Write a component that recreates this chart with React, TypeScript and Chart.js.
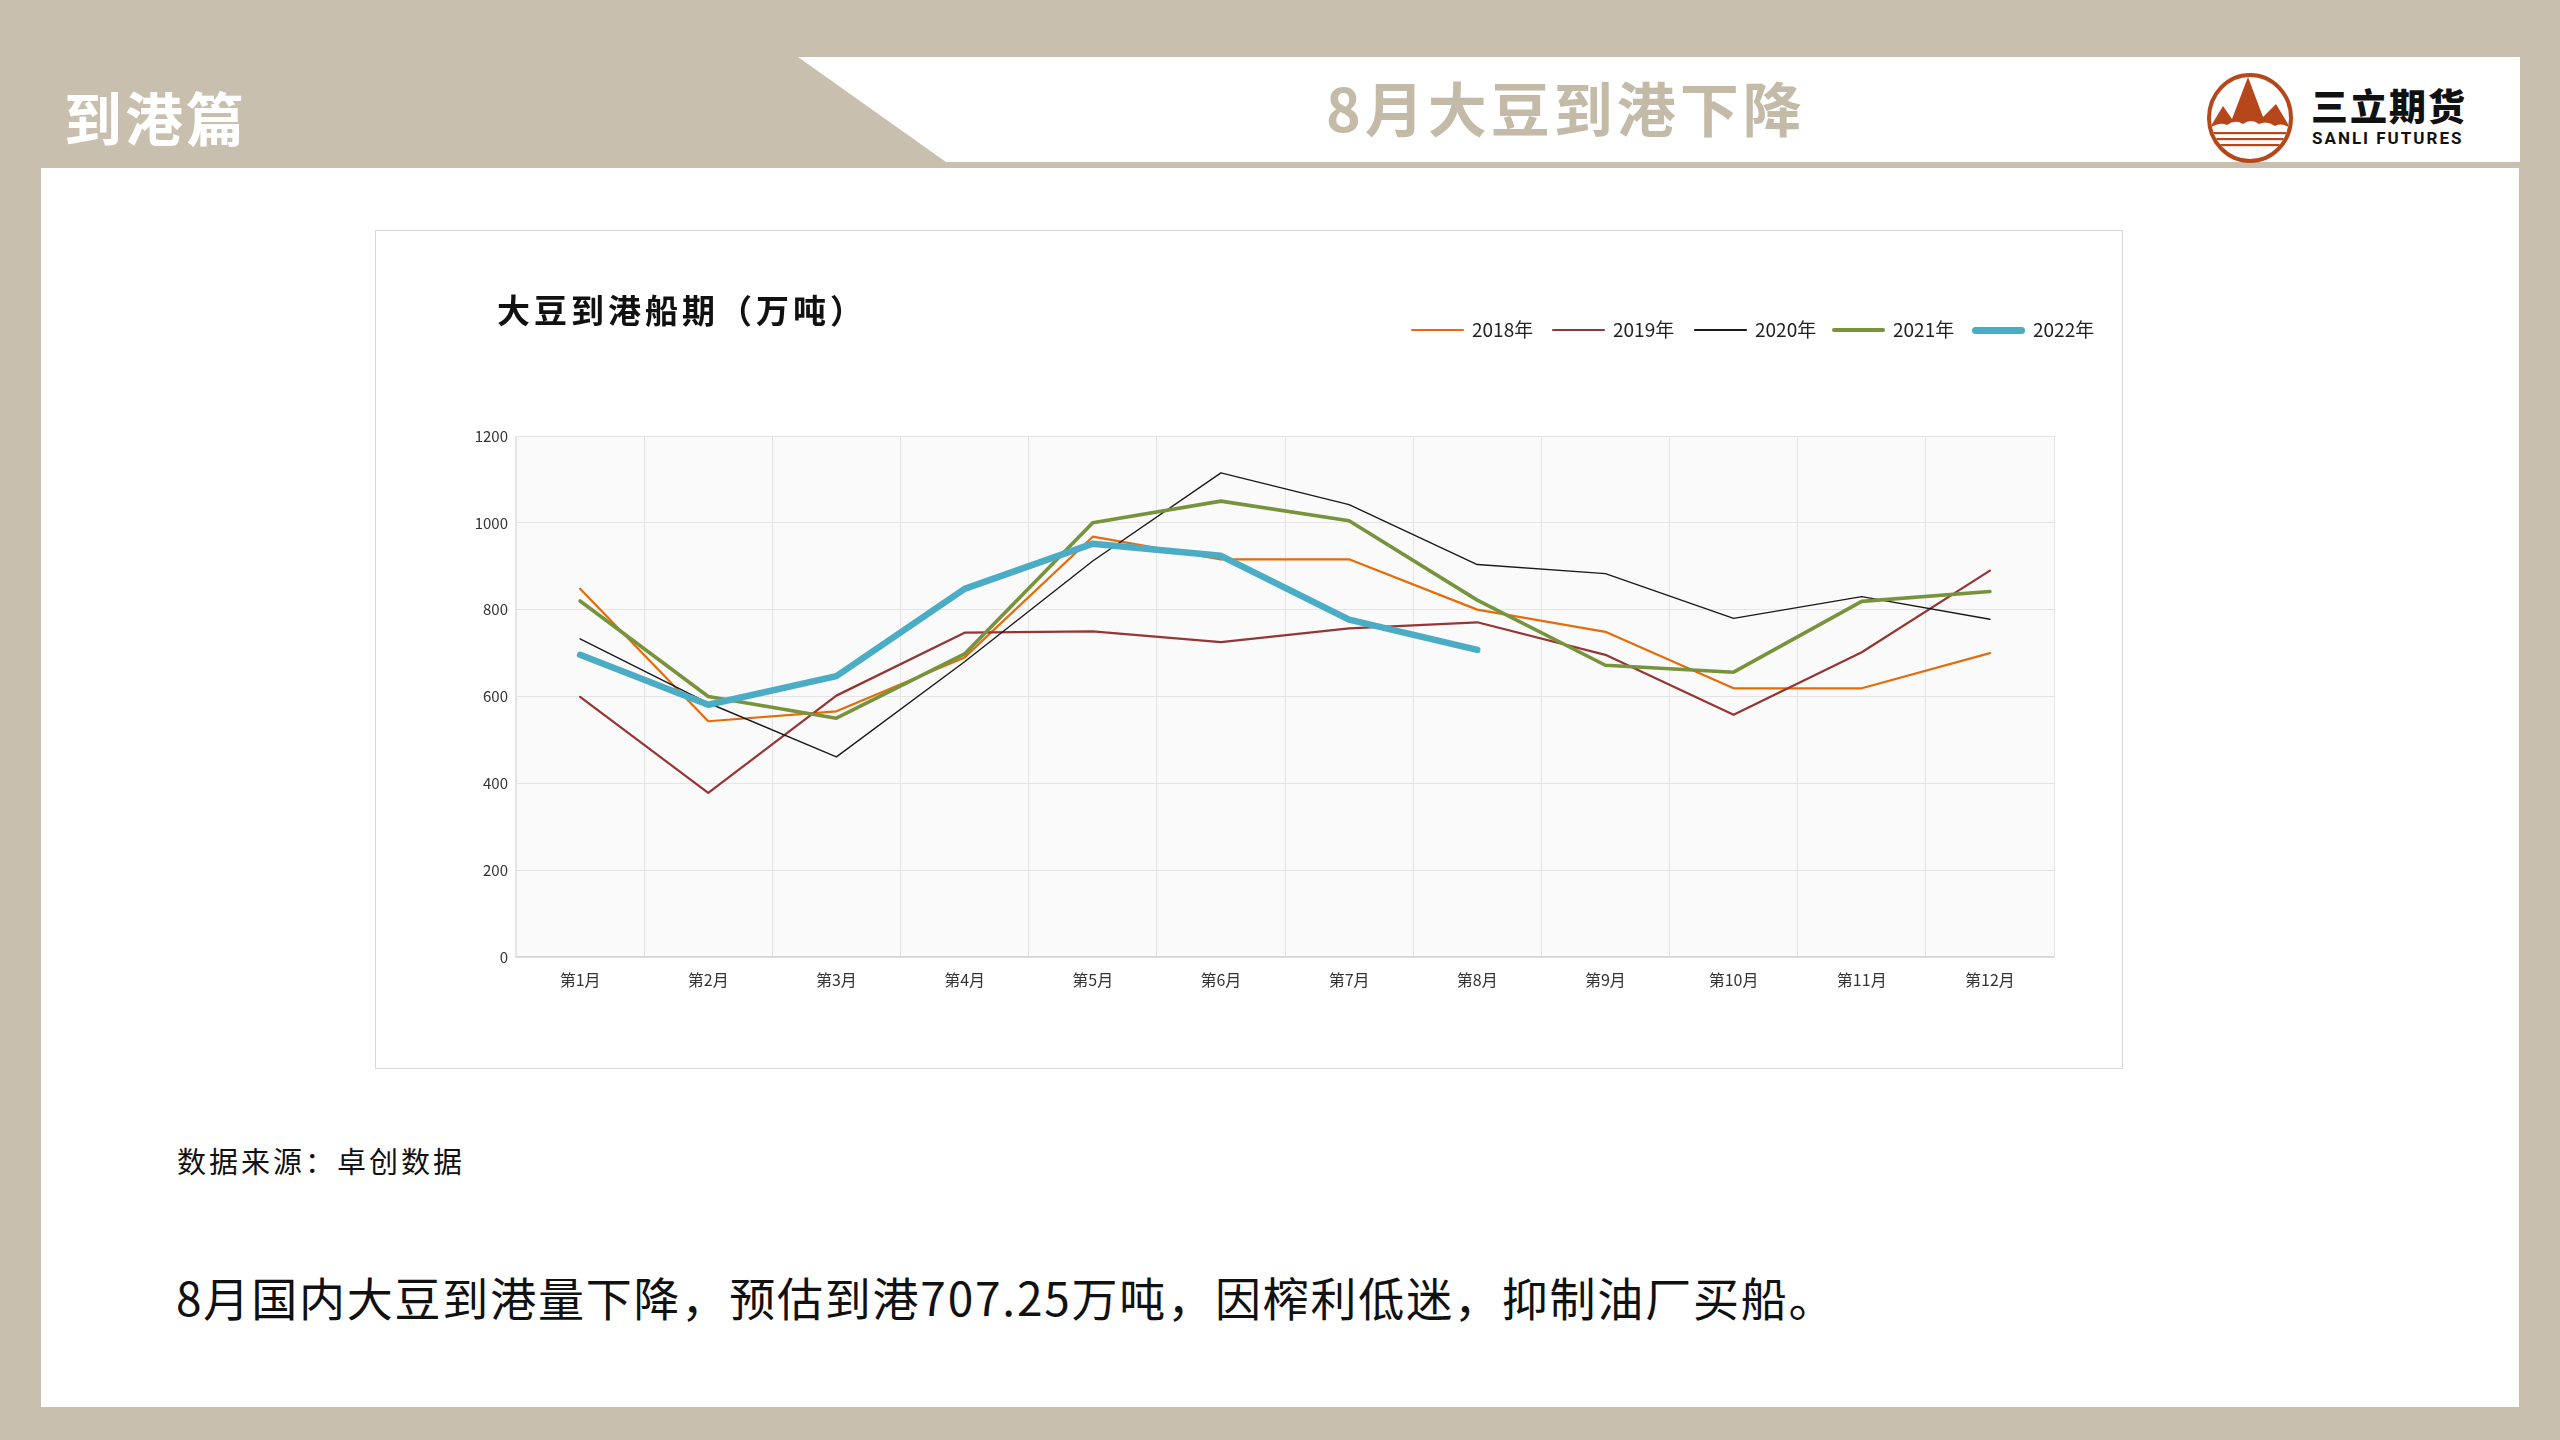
import React, { useEffect, useRef } from 'react';
import { Chart, registerables } from 'chart.js';

Chart.register(...registerables);

const months = ['第1月', '第2月', '第3月', '第4月', '第5月', '第6月', '第7月', '第8月', '第9月', '第10月', '第11月', '第12月'];
const years = ['2018年', '2019年', '2020年', '2021年', '2022年'];
const v2018 = [848, 543, 566, 690, 968, 916, 916, 800, 749, 619, 619, 700];
const v2019 = [599, 378, 602, 747, 750, 725, 757, 771, 696, 558, 702, 890];
const v2020 = [733, 585, 461, 680, 912, 1115, 1042, 904, 883, 780, 830, 778];
const v2021 = [820, 600, 550, 698, 1000, 1050, 1005, 822, 672, 656, 819, 842];
const v2022 = [696, 581, 647, 848, 952, 924, 777, 707.25, null, null, null, null];
const yTicks = [0, 200, 400, 600, 800, 1000, 1200];

const seriesValues = [v2018, v2019, v2020, v2021, v2022];
const colors = ['#E46C0A', '#943634', '#1A1A1A', '#77933C', '#4BACC6'];
const widths = [2.25, 2.25, 1.4, 3.6, 6.5];

const FONT = '"Noto Sans CJK SC", "Noto Sans", sans-serif';
const TAN = '#C8BFAF';

const bgPlugin = {
  id: 'plotBg',
  beforeDraw(chart: any) {
    const { ctx, chartArea } = chart;
    if (!chartArea) return;
    ctx.save();
    ctx.fillStyle = '#FAFAFA';
    ctx.fillRect(chartArea.left, chartArea.top, chartArea.right - chartArea.left, chartArea.bottom - chartArea.top);
    ctx.restore();
  },
};

function Logo() {
  const c = '#B5471B';
  return (
    <svg width={120} height={110} viewBox="0 0 120 110" style={{ position: 'absolute', left: 2195, top: 65 }}>
      <defs>
        <clipPath id="lc">
          <ellipse cx={55} cy={53} rx={39} ry={41} />
        </clipPath>
      </defs>
      <ellipse cx={55} cy={53} rx={41} ry={43} fill="#fff" stroke={c} strokeWidth={4} />
      <g clipPath="url(#lc)">
        <path
          d="M14 64 L28 41 L37 54 L53 12 L68 52 L81 39 L96 64 Q88 57 80 61 Q72 55 64 59 Q56 53 48 59 Q40 54 32 60 Q23 56 14 64 Z"
          fill={c}
        />
        <rect x={10} y={67} width={90} height={2.2} fill={c} />
        <rect x={10} y={73} width={90} height={2.2} fill={c} />
        <rect x={10} y={79} width={90} height={2.2} fill={c} />
      </g>
    </svg>
  );
}

export default function App() {
  const ref = useRef<HTMLCanvasElement>(null);

  useEffect(() => {
    const chart = new Chart(ref.current as HTMLCanvasElement, {
      type: 'line',
      data: {
        labels: months,
        datasets: seriesValues.map((vals, i) => ({
          label: years[i],
          data: vals,
          borderColor: colors[i],
          backgroundColor: colors[i],
          borderWidth: widths[i],
          pointRadius: 0,
          pointHoverRadius: 0,
          tension: 0,
          fill: false,
          spanGaps: false,
          borderCapStyle: 'round',
          borderJoinStyle: 'round',
          order: 4 - i,
        })),
      },
      options: {
        animation: false,
        responsive: true,
        maintainAspectRatio: false,
        layout: { padding: { left: 0, right: 68, top: 205, bottom: 51 } },
        plugins: {
          legend: { display: false },
          title: { display: false },
          tooltip: { enabled: false },
        },
        scales: {
          x: {
            type: 'category',
            offset: true,
            grid: { offset: true, color: '#E4E4E4', lineWidth: 1, drawTicks: false },
            border: { color: '#D6D6D6', width: 1.5 },
            ticks: { color: '#333333', font: { family: FONT, size: 16 }, padding: 13, maxRotation: 0, autoSkip: false },
            afterFit: (s: any) => { s.height = 60; },
          },
          y: {
            min: 0,
            max: 1200,
            afterBuildTicks: (s: any) => { s.ticks = yTicks.map((v) => ({ value: v })); },
            grid: { color: '#E4E4E4', lineWidth: 1, drawTicks: false },
            border: { color: '#E4E4E4', width: 1 },
            ticks: { color: '#333333', font: { family: FONT, size: 15 }, padding: 8, callback: (v: any) => String(v) },
            afterFit: (s: any) => { s.width = 140; },
          },
        },
      },
      plugins: [bgPlugin],
    } as any);
    return () => chart.destroy();
  }, []);

  const legendLeft = [1411, 1552, 1694, 1832, 1972];
  const legendThick = [2.5, 2.5, 1.6, 4, 7];

  const text = (s: string, left: number, cy: number, size: number, extra: React.CSSProperties = {}) => (
    <div
      style={{
        position: 'absolute',
        left,
        top: cy - size * 0.7,
        height: size * 1.4,
        lineHeight: `${size * 1.4}px`,
        fontSize: size,
        fontFamily: FONT,
        whiteSpace: 'nowrap',
        ...extra,
      }}
    >
      {s}
    </div>
  );

  return (
    <div style={{ position: 'absolute', left: 0, top: 0, width: 2560, height: 1440, background: TAN, overflow: 'hidden' }}>
      <svg width={2560} height={200} style={{ position: 'absolute', left: 0, top: 0 }}>
        <polygon points="798,57 2520,57 2520,162 946,162" fill="#FFFFFF" />
      </svg>
      <div style={{ position: 'absolute', left: 41, top: 168, width: 2478, height: 1239, background: '#FFFFFF' }} />

      {text('到港篇', 64, 117, 58, { color: '#FFFFFF', fontWeight: 700, letterSpacing: 3 })}
      {text('8月大豆到港下降', 1326, 107, 59, { color: '#C4BAA8', fontWeight: 700, letterSpacing: 4 })}

      <Logo />
      {text('三立期货', 2311, 106, 37, { color: '#111', fontWeight: 900, letterSpacing: 2 })}
      {text('SANLI FUTURES', 2312, 139, 17, { color: '#111', fontWeight: 700, fontFamily: 'Roboto, "Liberation Sans", sans-serif', letterSpacing: 2 })}

      <div style={{ position: 'absolute', left: 375, top: 230, width: 1746, height: 837, border: '1px solid #D9D9D9', background: '#FFFFFF' }}>
        <canvas ref={ref} />
      </div>

      {text('大豆到港船期（万吨）', 497, 309, 33, { color: '#111', fontWeight: 700, letterSpacing: 4 })}

      {years.map((y, i) => (
        <React.Fragment key={y}>
          <div
            style={{
              position: 'absolute',
              left: legendLeft[i],
              top: 330 - legendThick[i] / 2,
              width: 53,
              height: legendThick[i],
              background: colors[i],
              borderRadius: legendThick[i] / 2,
            }}
          />
          {text(y, legendLeft[i] + 61, 329, 19, { color: '#222' })}
        </React.Fragment>
      ))}

      {text('数据来源：卓创数据', 177, 1160, 29, { color: '#111', letterSpacing: 3 })}
      {text('8月国内大豆到港量下降，预估到港707.25万吨，因榨利低迷，抑制油厂买船。', 176, 1296, 46, { color: '#111', letterSpacing: 1.8 })}
    </div>
  );
}
